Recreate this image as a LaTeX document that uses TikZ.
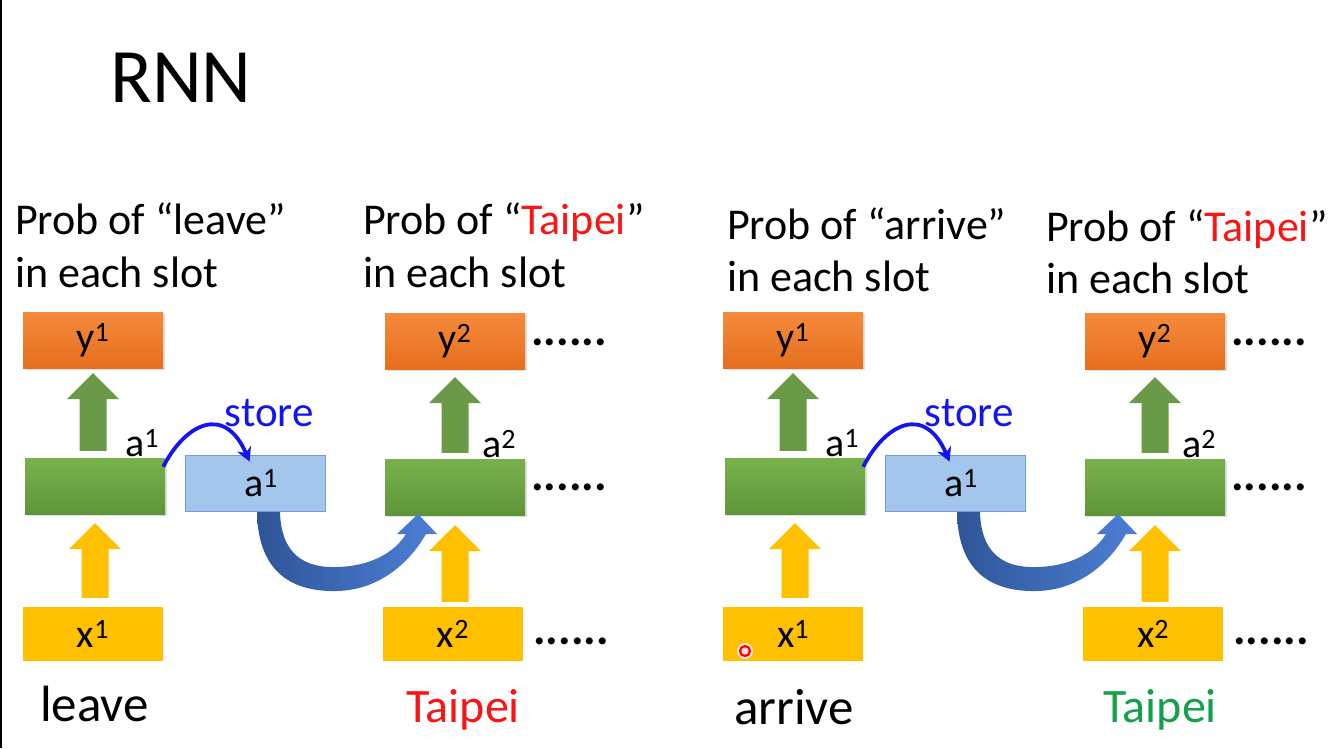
\documentclass[tikz,border=0pt]{standalone}
\usepackage{fontspec}
\setmainfont{Carlito}
\usetikzlibrary{calc,shadows,arrows.meta}
\definecolor{orT}{HTML}{F58A3C}
\definecolor{orB}{HTML}{E66E1E}
\definecolor{grT}{HTML}{78B24C}
\definecolor{grB}{HTML}{5E953A}
\definecolor{gold}{HTML}{FFC000}
\definecolor{lblue}{HTML}{A4C6EC}
\definecolor{sblue}{HTML}{6A9FDC}
\definecolor{bigA}{HTML}{2F5597}
\definecolor{bigB}{HTML}{4C7FD6}
\definecolor{garrowc}{HTML}{6A9A47}
\definecolor{storeblue}{RGB}{20,20,240}
\definecolor{tred}{RGB}{250,20,20}
\definecolor{tgreen}{HTML}{12A04A}
\newcommand\sups[1]{\textsuperscript{#1}}
\newcommand\blockup[5]{% style, lower node, upper node, tip gap, bottom gap
  \path ($(#3.south)+(0,#4)$) coordinate (t) (t |- #2.north) coordinate (b);
  \fill[#1] (t) -- ++(26,26) -- ++(-12.5,0) -- ($(b)+(13.5,-#5)$) -- ($(b)+(-13.5,-#5)$)
    -- ($(t)+(-13.5,26)$) -- ++(-12.5,0) -- cycle;}
\tikzset{
  box/.style={minimum width=140pt, minimum height=56pt, inner sep=0pt, font=\fontsize{40}{42}\selectfont},
  ybox/.style={box, top color=orT, bottom color=orB, drop shadow={shadow xshift=1.5pt, shadow yshift=-2pt, opacity=0.25}},
  hbox/.style={box, top color=grT, bottom color=grB, drop shadow={shadow xshift=1.5pt, shadow yshift=-2pt, opacity=0.25}},
  xbox/.style={box, fill=gold, minimum height=54pt},
  sbox/.style={box, fill=lblue, draw=sblue, line width=0.8pt},
  garr/.style={fill=garrowc},
  yarr/.style={fill=gold},
  lbl/.style={inner sep=0pt, anchor=base west, font=\fontsize{40}{42}\selectfont},
  dots/.style={inner sep=0pt, anchor=base west, font=\fontsize{47}{48}\selectfont\bfseries},
  head/.style={inner sep=0pt, anchor=base west, font=\fontsize{44}{48}\selectfont},
  word/.style={inner sep=0pt, anchor=base west, font=\fontsize{51}{54}\selectfont},
  tword/.style={word, font=\fontsize{48}{54}\selectfont},
  storearr/.style={draw=storeblue, line width=3.8pt, -{Stealth[length=14pt,width=15pt]}},
  storelbl/.style={inner sep=0pt, anchor=base west, text=storeblue, font=\fontsize{43}{45}\selectfont}
}
\newcommand\rnnhalf[2]{%
\begin{scope}[xshift=#1pt]
  \node[ybox] (#2y1) at (93,340) {y\sups{1}};
  \node[hbox] (#2h1) at (95,486) {};
  \node[xbox] (#2x1) at (93,634) {x\sups{1}};
  \node[sbox] (#2s)  at (255,483) {\hspace*{12pt}a\sups{1}};
  \node[ybox] (#2y2) at (455,341) {y\sups{2}};
  \node[hbox] (#2h2) at (455,487) {};
  \node[xbox] (#2x2) at (453,634) {x\sups{2}};
  \node[lbl, anchor=base east] (#2a1) at ($(#2h1.north east)+(-6,-1)$) {a\sups{1}};
  \node[lbl, anchor=base east] (#2a2) at ($(#2h2.north east)+(-9,-1)$) {a\sups{2}};
  \node[dots] (#2d1) at ($(#2y2.east)+(6,4)$) {......};
  \node[dots] (#2d2) at ($(#2h2.east)+(6,3)$) {......};
  \node[dots] (#2d3) at ($(#2x2.east)+(10,10)$) {......};
  \node[storelbl] (#2st) at ($(#2s.north west)+(40,-28)$) {store};
  \blockup{garr}{#2h1}{#2y1}{5}{7}
  \blockup{garr}{#2h2}{#2y2}{8}{6}
  \blockup{yarr}{#2x1}{#2h1}{9}{9}
  \blockup{yarr}{#2x2}{#2h2}{10}{5}
  \draw[storearr] ($(#2h1.north east)+(-2,9)$) .. controls +(22,-43) and +(-25,-58) .. ($(#2s.north west)+(65,7)$);
  \shade[left color=bigA, right color=bigB]
    (257,512) .. controls (258,575) and (295,592) .. (337,591)
    .. controls (380,590) and (410,562) .. (426,534)
    -- (437,534) -- (418,514) -- (397,534) -- (406,534)
    .. controls (395,552) and (370,568) .. (330,567)
    .. controls (300,566) and (281,550) .. (280,512) -- cycle;
\end{scope}}
\begin{document}
\begin{tikzpicture}[x=1pt,y=-1pt]
  \useasboundingbox[fill=white] (0,0) rectangle (1338,748);
  \draw[black, line width=2pt] (1,0) -- (1,748);
  \node[inner sep=0pt, anchor=base west, font=\fontsize{77}{80}\selectfont] (title) at (110,102) {RNN};
  \rnnhalf{0}{L}
  \rnnhalf{700}{R}
  % headers
  \node[head] (hL1a) at (15,234) {Prob of “leave”};
  \node[head] (hL1b) at (15,287) {in each slot};
  \node[head] (hL2a) at (363,234) {Prob of “\textcolor{tred}{Taipei}”};
  \node[head] (hL2b) at (363,287) {in each slot};
  \node[head] (hR1a) at (727,239) {Prob of “arrive”};
  \node[head] (hR1b) at (727,291) {in each slot};
  \node[head] (hR2a) at (1046,241) {Prob of “\textcolor{tred}{Taipei}”};
  \node[head] (hR2b) at (1046,293) {in each slot};
  % words
  \node[word] (wL1) at (40,721) {leave};
  \node[tword, text=tred] (wL2) at (406,722) {Taipei};
  \node[word] (wR1) at (734,724) {arrive};
  \node[tword, text=tgreen] (wR2) at (1103,722) {Taipei};
  % laser pointer
  \fill[red!10] (745,651) circle (8pt);
  \draw[red, line width=2.2pt, fill=red!15] (745,651) circle (5pt);
\end{tikzpicture}
\end{document}
